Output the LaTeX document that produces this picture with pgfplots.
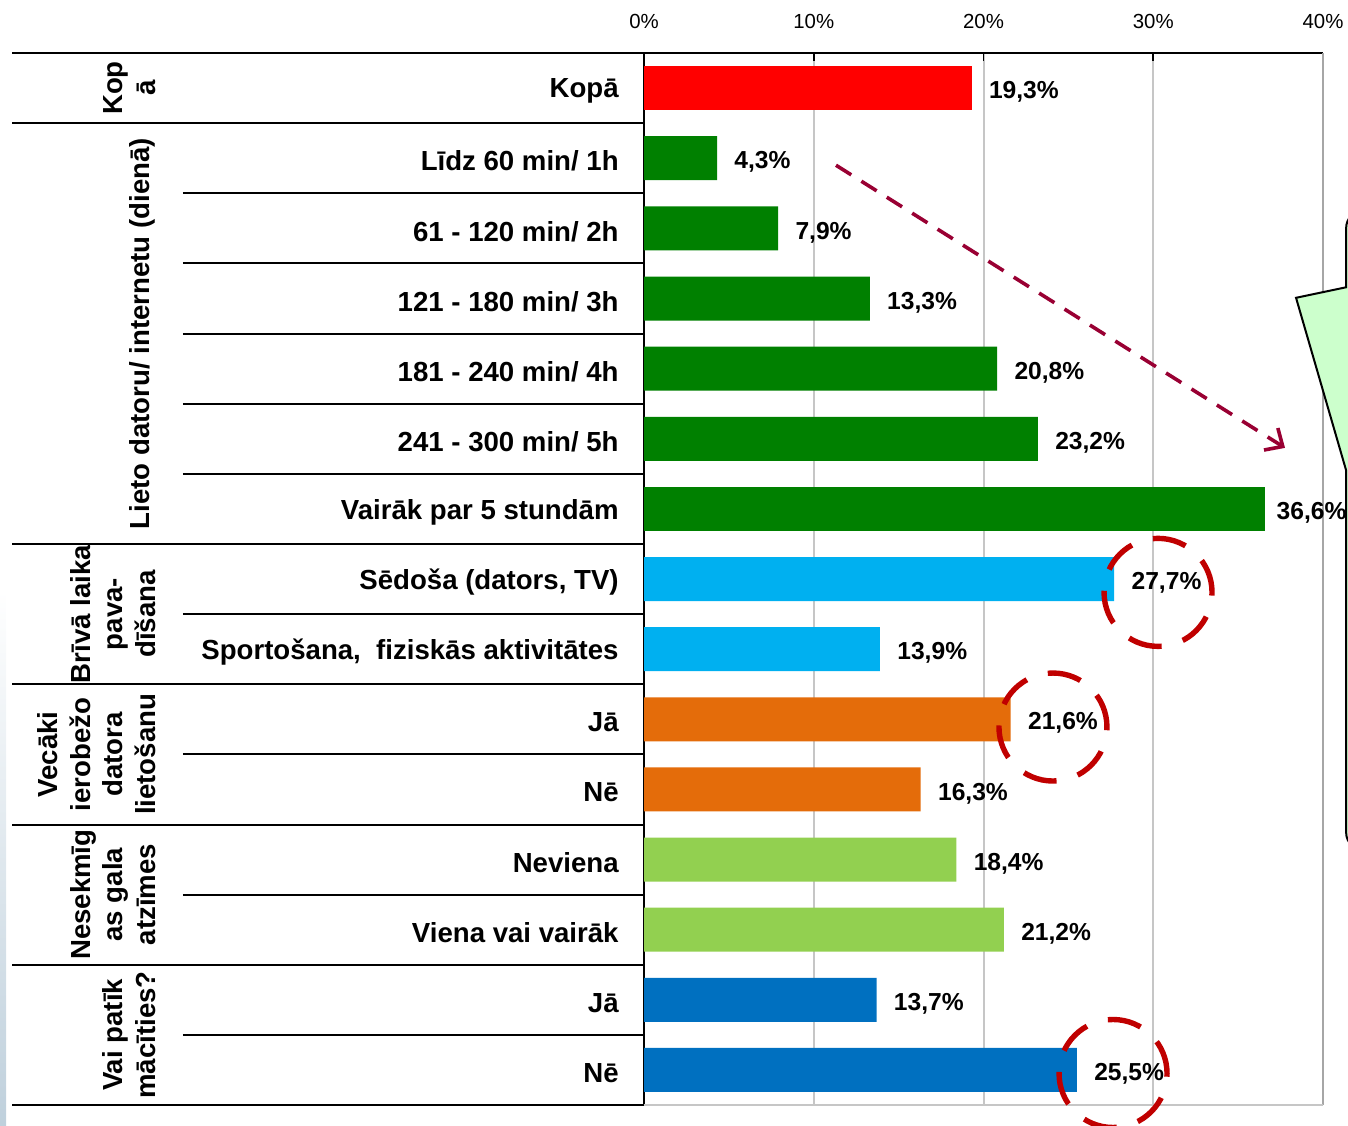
\documentclass[border=0pt]{standalone}
\usepackage{fontspec}
\setmainfont{Liberation Sans}
\usepackage{pgfplots}
\pgfplotsset{compat=1.18}
\usetikzlibrary{arrows.meta}

\definecolor{cRed}{HTML}{FF0000}
\definecolor{cGreen}{HTML}{008000}
\definecolor{cCyan}{HTML}{00B0F0}
\definecolor{cOrange}{HTML}{E46C0A}
\definecolor{cLime}{HTML}{92D050}
\definecolor{cBlue}{HTML}{0070C0}
\definecolor{circRed}{HTML}{C00000}
\definecolor{arrowRed}{HTML}{990033}
\definecolor{callout}{HTML}{CCFFCC}
\definecolor{edge}{HTML}{BFD0DC}

\newcommand\catfont{\bfseries\fontsize{13.8}{16.3}\selectfont}

\begin{document}
\begin{tikzpicture}
\begin{axis}[
    xbar,
    bar width=22pt,
    every axis plot/.append style={bar shift=0pt, draw=none},
    scale only axis,
    width=339.5pt, height=526pt,
    xmin=0, xmax=40,
    ymin=-0.5, ymax=14.5,
    y dir=reverse,
    clip=false,
    axis x line*=top,
    axis y line*=left,
    axis line style={-, line width=1pt, black},
    xtick={0,10,20,30,40},
    xticklabels={0\%,10\%,20\%,30\%,40\%},
    xticklabel style={font=\fontsize{10.2}{12}\selectfont, yshift=8.5pt},
    tick align=inside,
    major tick length=4pt,
    xtick style={black, line width=0.8pt},
    xmajorgrids,
    grid style={gray!45, line width=1pt},
    ytick={0,...,14},
    ytick style={draw=none},
    yticklabels={Kopā, Līdz 60 min/ 1h, 61 - 120 min/ 2h, 121 - 180 min/ 3h,
        181 - 240 min/ 4h, 241 - 300 min/ 5h, Vairāk par 5 stundām,
        {Sēdoša (dators, TV)}, {Sportošana,\ \ fiziskās aktivitātes},
        Jā, Nē, Neviena, Viena vai vairāk, Jā, Nē},
    yticklabel style={font=\catfont, inner sep=0pt, xshift=-12.5pt, yshift=-1.5pt},
    nodes near coords={\pgfmathprintnumber[fixed, fixed zerofill, precision=1, use comma, assume math mode=true]{\pgfplotspointmeta}\%},
    nodes near coords style={font=\bfseries\fontsize{12.3}{14}\selectfont, black, inner sep=0pt, xshift=8.5pt, yshift=-2pt},
]
\addplot[fill=cRed] coordinates {(19.3,0)};
\addplot[fill=cGreen] coordinates {(4.3,1) (7.9,2) (13.3,3) (20.8,4) (23.2,5)};
\addplot[fill=cGreen, nodes near coords style={xshift=-3pt}] coordinates {(36.6,6)};
\addplot[fill=cCyan] coordinates {(27.7,7) (13.9,8)};
\addplot[fill=cOrange] coordinates {(21.6,9) (16.3,10)};
\addplot[fill=cLime] coordinates {(18.4,11) (21.2,12)};
\addplot[fill=cBlue] coordinates {(13.7,13) (25.5,14)};

% frame right / bottom
\draw[gray!70, line width=1pt] (axis cs:40,-0.5) -- (axis cs:40,14.5);
\draw[gray!45, line width=1pt] (axis cs:0,14.5) -- (axis cs:40,14.5);

% faint slide edge on the left
\shade[top color=white, bottom color=edge] (axis cs:-37.94,7.16) rectangle (axis cs:-37.58,14.786);

% table lines on the left
\pgfplotsinvokeforeach{-0.5,0.5,6.5,8.5,10.5,12.5,14.5}{
  \draw[black, line width=1pt] (axis cs:-37.23,#1) -- (axis cs:0,#1);
}
\pgfplotsinvokeforeach{1.5,2.5,3.5,4.5,5.5,7.5,9.5,11.5,13.5}{
  \draw[black, line width=1pt] (axis cs:-27.16,#1) -- (axis cs:0,#1);
}

% group labels
\tikzset{grp/.style={rotate=90, anchor=south, align=center, inner sep=0pt, font=\catfont}}
\node[grp] at (axis cs:-28.75,0) {Kop\\ā};
\node[grp] at (axis cs:-28.75,3.5) {Lieto datoru/ internetu (dienā)};
\node[grp] at (axis cs:-28.75,7.5) {Brīvā laika\\pava-\\dīšana};
\node[grp] at (axis cs:-28.75,9.5) {Vecāki\\ierobežo\\datora\\lietošanu};
\node[grp] at (axis cs:-28.75,11.5) {Nesekmīg\\as gala\\atzīmes};
\node[grp] at (axis cs:-28.75,13.5) {Vai patīk\\mācīties?};

% trend arrow
\draw[arrowRed, line width=1.8pt, dash pattern=on 9pt off 6pt,
      -{Straight Barb[length=7pt, width=13pt, line width=1.8pt]}]
  (axis cs:11.31,1.10) -- (axis cs:37.76,5.13);

% dashed highlight circles
\tikzset{hl/.style={circRed, line width=2.7pt, dash pattern=on 17pt off 11pt}}
\draw[hl] (axis cs:30.28,7.19) circle[radius=27pt];
\draw[hl] (axis cs:24.09,9.11) circle[radius=27pt];
\draw[hl] (axis cs:27.63,14.05) circle[radius=27pt];

% callout at the right edge
\draw[fill=callout, line width=1pt]
  (axis cs:60,1.74) [rounded corners=9pt] -- (axis cs:41.36,1.74)
  [sharp corners] -- (axis cs:41.36,2.84) -- (axis cs:38.41,2.99)
  -- (axis cs:41.36,5.45) [rounded corners=9pt] -- (axis cs:41.36,10.87)
  -- (axis cs:60,10.87);

\coordinate (TL) at (axis cs:-37.94,-1.256);
\coordinate (BR) at (axis cs:41.47,14.786);
\end{axis}
\pgfresetboundingbox
\useasboundingbox (TL) rectangle (BR);
\end{tikzpicture}
\end{document}
